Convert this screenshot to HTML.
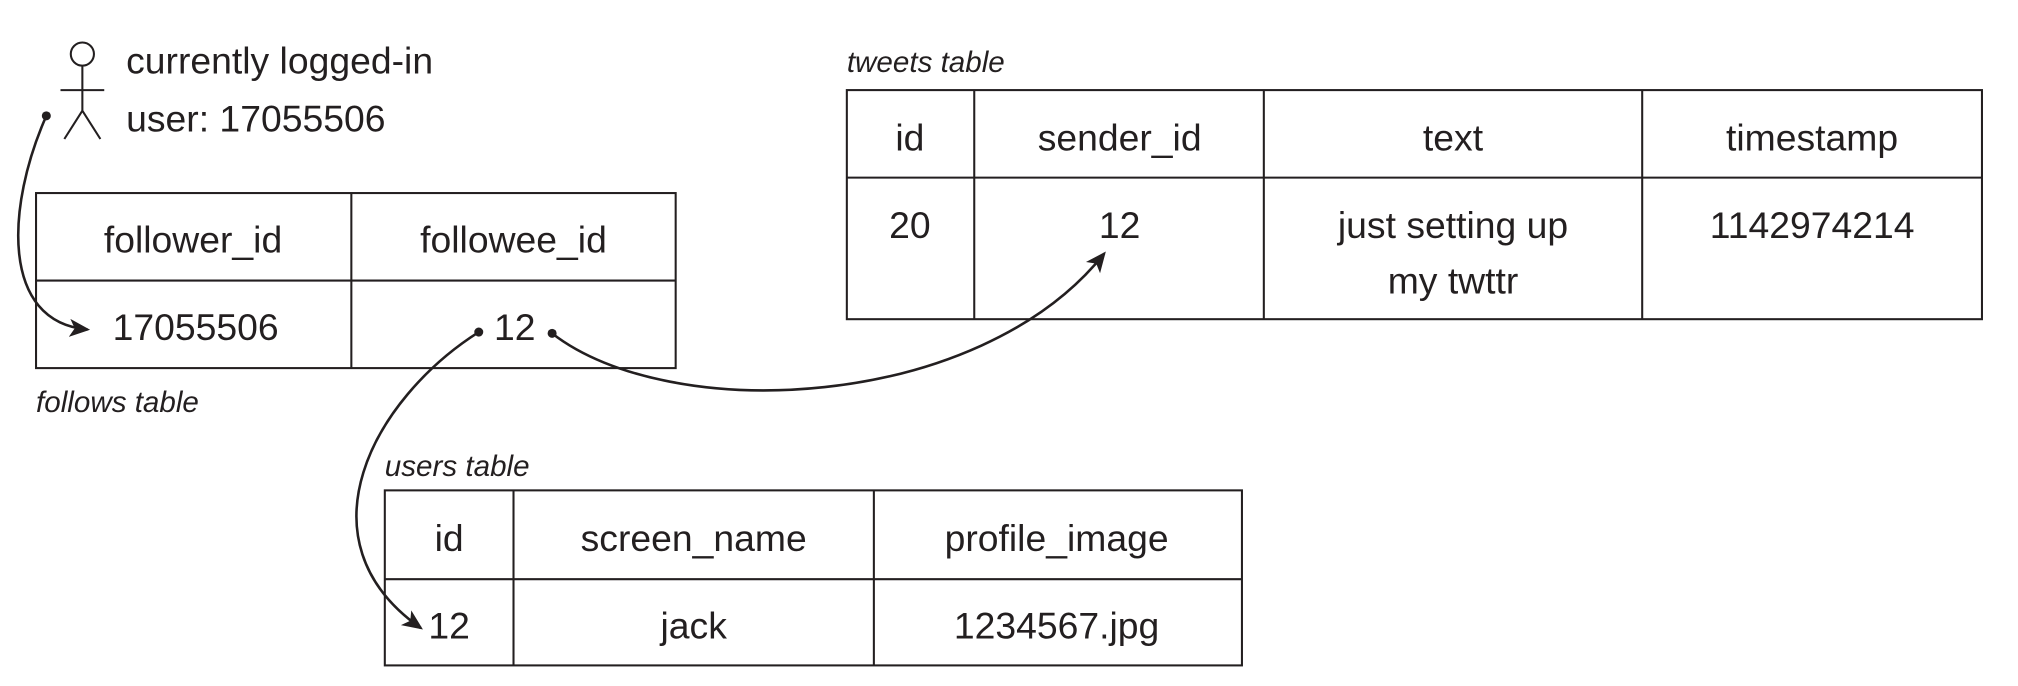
<!DOCTYPE html>
<html><head><meta charset="utf-8"><style>
html,body{margin:0;padding:0;background:#fff;width:2018px;height:686px;overflow:hidden}
svg{display:block}
text{font-family:"Liberation Sans",sans-serif;fill:#231f20}
.t{font-size:29px}
.i{font-size:23px;font-style:italic}
</style></head><body>
<svg width="2018" height="686" viewBox="0 0 1568 533" preserveAspectRatio="none" xmlns="http://www.w3.org/2000/svg">
<defs><marker id="a" markerWidth="16" markerHeight="16" refX="14" refY="8" orient="auto" markerUnits="userSpaceOnUse"><path d="M0,1 L16,8 L0,15 L4,8 Z" fill="#231f20"/></marker></defs>
<g fill="none" stroke="#231f20" stroke-width="1.6">
<circle cx="64" cy="42" r="9"/>
<path d="M64 51 V86 M47 70 H81 M64 86 L50 108 M64 86 L78 108"/>
<rect x="28" y="150" width="497" height="136"/><path d="M28 218 H525 M273 150 V286"/>
<rect x="658" y="70" width="882" height="178"/><path d="M658 138 H1540 M757 70 V248 M982 70 V248 M1276 70 V248"/>
<rect x="299" y="381" width="666" height="136"/><path d="M299 450 H965 M399 381 V517 M679 381 V517"/>
</g>
<g fill="none" stroke="#231f20" stroke-width="2">
<path d="M36 90 C 5 160 0 250 68 256" marker-end="url(#a)"/>
<path d="M372 258 C 290 310 230 420 327 488" marker-end="url(#a)"/>
<path d="M429 259 C 520 330 760 320 858 197" marker-end="url(#a)"/>
</g>
<g fill="#231f20"><circle cx="36" cy="90" r="3.5"/><circle cx="372" cy="258" r="3.5"/><circle cx="429" cy="259" r="3.5"/></g>
<text class="t" x="98" y="57">currently logged-in</text>
<text class="t" x="98" y="102">user: 17055506</text>
<g class="t" text-anchor="middle">
<text x="150" y="196">follower_id</text><text x="399" y="196">followee_id</text>
<text x="152" y="264">17055506</text><text x="400" y="264">12</text>
<text x="707" y="117">id</text><text x="870" y="117">sender_id</text><text x="1129" y="117">text</text><text x="1408" y="117">timestamp</text>
<text x="707" y="185">20</text><text x="870" y="185">12</text><text x="1129" y="185">just setting up</text><text x="1129" y="228">my twttr</text><text x="1408" y="185">1142974214</text>
<text x="349" y="428">id</text><text x="539" y="428">screen_name</text><text x="821" y="428">profile_image</text>
<text x="349" y="496">12</text><text x="539" y="496">jack</text><text x="821" y="496">1234567.jpg</text>
</g>
<text class="i" x="28" y="320">follows table</text>
<text class="i" x="658" y="56">tweets table</text>
<text class="i" x="299" y="370">users table</text>
</svg>
</body></html>
